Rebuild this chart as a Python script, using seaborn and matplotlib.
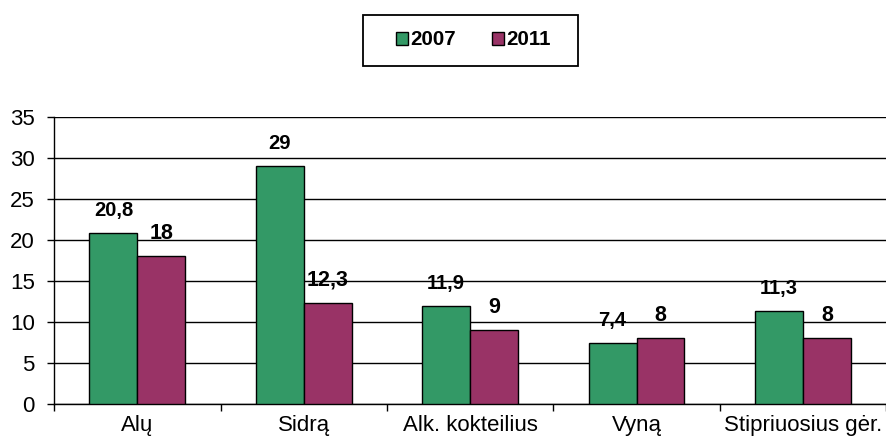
import numpy as np
import pandas as pd
import matplotlib
matplotlib.use("Agg")
import matplotlib.pyplot as plt
import seaborn as sns
from matplotlib.patches import Rectangle
from matplotlib.ticker import FixedLocator

categories = ["Alų", "Sidrą", "Alk. kokteilius", "Vyną", "Stipriuosius gėr."]
years = ["2007", "2011"]
values_2007 = [20.8, 29, 11.9, 7.4, 11.3]
values_2011 = [18, 12.3, 9, 8, 8]
labels_2007 = ["20,8", "29", "11,9", "7,4", "11,3"]
labels_2011 = ["18", "12,3", "9", "8", "8"]
colors = ["#339966", "#993366"]

sns.set_style("white")
plt.rcParams["font.family"] = ["Liberation Sans", "DejaVu Sans"]
plt.rcParams["text.color"] = "black"
plt.rcParams["xtick.color"] = "black"
plt.rcParams["ytick.color"] = "black"

df = pd.DataFrame({
    "category": categories * 2,
    "year": [years[0]] * len(categories) + [years[1]] * len(categories),
    "value": values_2007 + values_2011,
})

fig = plt.figure(figsize=(8.87, 4.41), dpi=100)
ax = fig.add_axes([0.061, 0.084, 0.938, 0.651])

sns.barplot(data=df, x="category", y="value", hue="year", palette=colors,
            width=0.575, edgecolor="black", linewidth=1.0, saturation=1,
            order=categories, hue_order=years, ax=ax, zorder=3)

# value labels
for cont, labs, size in zip(ax.containers, [labels_2007, labels_2011], [14.5, 15.5]):
    for bar, lab in zip(cont, labs):
        ax.annotate(lab, (bar.get_x() + bar.get_width() / 2, bar.get_height()),
                    xytext=(0, 16.5), textcoords="offset points",
                    ha="center", va="center", fontsize=size, fontweight="bold")

ax.set_ylim(0, 35)
ax.set_xlim(-0.5, len(categories) - 0.5)
ax.set_yticks(range(0, 36, 5))
ax.yaxis.grid(True, color="black", linewidth=1.0, zorder=0)
ax.set_axisbelow(True)
ax.set_xlabel("")
ax.set_ylabel("")

ax.tick_params(axis="x", which="major", length=0, labelsize=16, pad=8)
ax.xaxis.set_minor_locator(FixedLocator(np.arange(-0.5, len(categories), 1)))
ax.tick_params(axis="x", which="minor", direction="out", length=5, width=1, color="black", bottom=True)
ax.tick_params(axis="y", direction="out", length=5, width=1, color="black", left=True, labelsize=16, pad=9)

for side in ["top", "right"]:
    ax.spines[side].set_visible(False)
for side in ["left", "bottom"]:
    ax.spines[side].set_color("black")
    ax.spines[side].set_linewidth(1.0)

# legend without its own frame; box drawn separately to get the wide padding
leg = ax.legend(title=None, ncol=2, loc="center", bbox_to_anchor=(0.5036, 1.268),
                frameon=False, prop={"weight": "bold", "size": 14.8},
                handlelength=0.6, handleheight=0.6, handletextpad=0.1,
                columnspacing=1.75, borderpad=0.75, borderaxespad=0)
fig.patches.append(Rectangle((363 / 887, 1 - 66 / 441), 215 / 887, 51 / 441,
                             transform=fig.transFigure, fill=False,
                             edgecolor="black", linewidth=1.3))

fig.savefig("out.png", dpi=100)
